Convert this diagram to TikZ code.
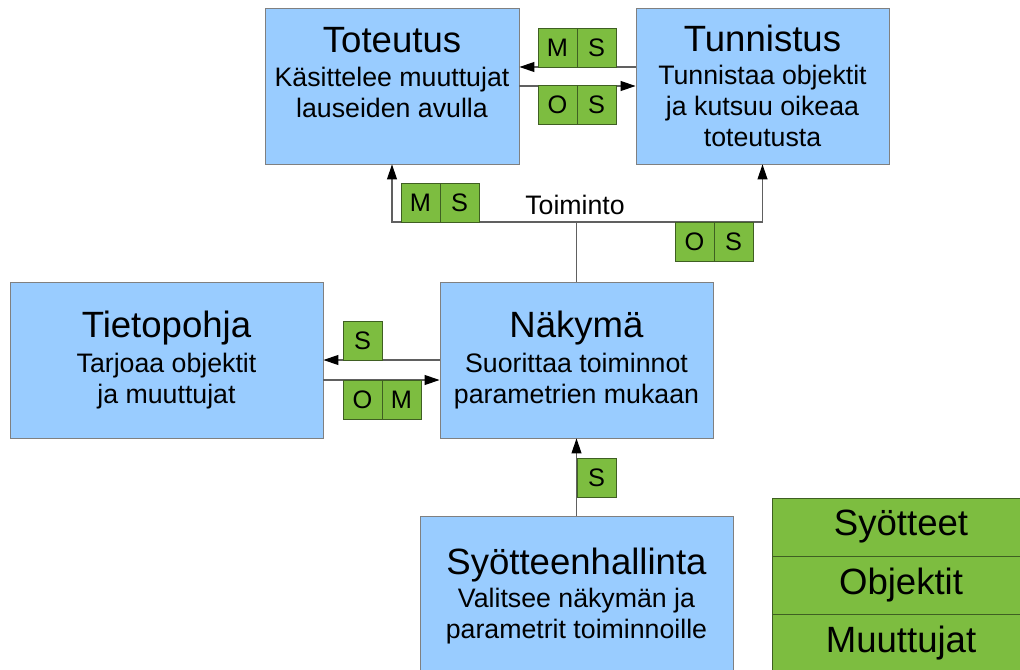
\documentclass[tikz,border=0pt]{standalone}
\usepackage{fontspec}
\setmainfont{Liberation Sans}
\usetikzlibrary{arrows.meta}
\usetikzlibrary{positioning}
\definecolor{boxblue}{HTML}{99CCFF}
\definecolor{boxline}{HTML}{808080}
\definecolor{taggreen}{HTML}{7DBD40}
\definecolor{tagline}{HTML}{3F5F22}
\definecolor{wirecol}{HTML}{606060}
\tikzset{
	module/.style={draw=boxline, line width=0.6pt, fill=boxblue, align=center, minimum height=3.9cm, inner sep=0pt, font=\fontsize{19}{22}\selectfont},
	tag/.style={draw=tagline, line width=0.6pt, fill=taggreen, minimum width=0.975cm, minimum height=0.975cm, inner sep=0pt, outer sep=0pt, font=\fontsize{18}{20}\selectfont},
	legend/.style={draw=tagline, line width=0.6pt, fill=taggreen, minimum width=6.45cm, minimum height=1.45cm, inner sep=0pt, outer sep=0pt, font=\fontsize{26}{30}\selectfont},
	flow/.style={draw=wirecol, line width=0.8pt, -{Triangle[length=0.375cm,width=0.25cm,color=black]}},
	wire/.style={draw=wirecol, line width=0.8pt},
	caption/.style={font=\fontsize{19}{22}\selectfont}
}
\newcommand{\modtitle}[1]{{\fontsize{26}{30}\selectfont #1}}

\begin{document}
\begin{tikzpicture}[x=0.025cm, y=-0.025cm]
		\useasboundingbox (0,0) rectangle (1020,670);
		\node[module, minimum width=6.35cm] (toteutus) at (392,86) {\modtitle{Toteutus}\\[2pt] Käsittelee muuttujat\\ lauseiden avulla\\[-9pt] \strut};
		\node[module, minimum width=6.325cm] (tunnistus) at (762.5,86) {\modtitle{Tunnistus}\\[1.5pt] Tunnistaa objektit\\ ja kutsuu oikeaa\\ toteutusta};
		\node[module, minimum width=7.825cm] (tietopohja) at (166.5,360) {\modtitle{Tietopohja}\\[3pt] Tarjoaa objektit\\ ja muuttujat};
		\node[module, minimum width=6.825cm] (nakyma) at (576.5,360) {\modtitle{Näkymä}\\[3pt] Suorittaa toiminnot\\ parametrien mukaan};
		\node[module, minimum width=7.825cm, minimum height=4cm] (syote) at (576.5,596) {\modtitle{Syötteenhallinta}\\[1.5pt] Valitsee näkymän ja\\ parametrit toiminnoille};
		
		\draw[flow] ([yshift=0.475cm]tunnistus.west) -- ([yshift=0.475cm]toteutus.east);
		\draw[flow] (toteutus.east) -- (tunnistus.west);
		\node[tag, anchor=south west] (ylaM) at (538,67) {M};
		\node[tag, right=0pt of ylaM] (ylaS) {S};
		\node[tag, anchor=north west] (alaO) at (538,85) {O};
		\node[tag, right=0pt of alaO] (alaS) {S};
		
		\coordinate (haara) at (576.5,222);
		\draw[wire] (nakyma.north) -- (haara);
		\draw[flow] (haara) -| (toteutus.south);
		\draw[flow] (haara) -| (tunnistus.south);
		\node[caption] (toiminto) at (575,205) {Toiminto};
		\node[tag, anchor=south west] (toimM) at (401,222) {M};
		\node[tag, right=0pt of toimM] (toimS) {S};
		\node[tag, anchor=north west] (toimO) at (675,222) {O};
		\node[tag, right=0pt of toimO] (toimS2) {S};
		
		\draw[flow] (nakyma.west) -- (tietopohja.east);
		\draw[flow] ([yshift=-0.5cm]tietopohja.east) -- ([yshift=-0.5cm]nakyma.west);
		\node[tag, anchor=south west] (haeS) at (343,360) {S};
		\node[tag, anchor=north west] (antoO) at (343,380) {O};
		\node[tag, right=0pt of antoO] (antoM) {M};
		
		\draw[flow] (syote.north) -- (nakyma.south);
		\node[tag, anchor=north west] (syoteS) at (577,458) {S};
		
		\node[legend, anchor=north west, text depth=0.2cm] (syotteet) at (772,498) {Syötteet};
		\node[legend, below=0pt of syotteet, text depth=0.2cm] (objektit) {Objektit};
		\node[legend, below=0pt of objektit, text depth=0.2cm] (muuttujat) {Muuttujat};
		
		\end{tikzpicture}
\end{document}
